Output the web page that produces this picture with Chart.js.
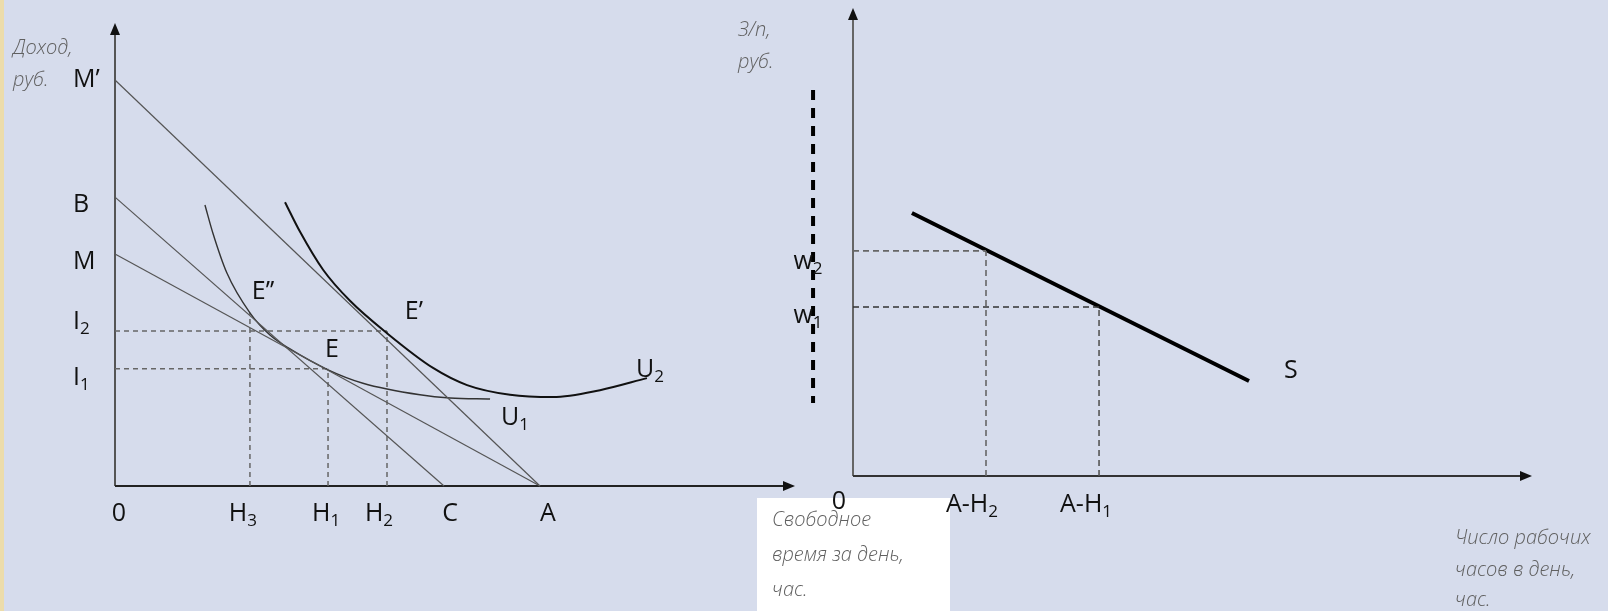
<!DOCTYPE html>
<html>
<head>
<meta charset="utf-8">
<script src="https://cdn.jsdelivr.net/npm/chart.js@4.4.1/dist/chart.umd.min.js"></script>
<style>
  html, body { margin: 0; padding: 0; }
  body { width: 1608px; height: 611px; background: #d6dcec; position: relative; overflow: hidden; }
  #bordure { position: absolute; left: 0; top: 0; width: 4px; height: 611px; background: #ecdcaa; }
  canvas { position: absolute; left: 0; top: 0; }
</style>
</head>
<body>
<div id="bordure"></div>
<canvas id="loisir" width="1608" height="611"></canvas>
<canvas id="offre" width="1608" height="611"></canvas>
<script>
// ---------------------------------------------------------------------
// Données (unités du graphique, pas des pixels)
// ---------------------------------------------------------------------

// Graphique de gauche : temps libre (h) / revenu (руб.)
const heuresValeurs = [0, 7.62, 12.03, 15.36, 18.58, 24];
const heuresEtiquettes = ['0', 'H3', 'H1', 'H2', 'C', 'A'];
const revenuValeurs = [877, 624, 501, 335, 253];
const revenuEtiquettes = ['M’', 'B', 'M', 'I2', 'I1'];

// Droites de budget
const droiteMprimeA = [[0, 877], [24, 0]];
const droiteBC = [[0, 624], [18.58, 0]];
const droiteMA = [[0, 501], [24, 0]];

// Courbes d'indifférence
const u1Heures = [5.08, 5.53, 6.32, 7.62, 8.75, 9.88, 12.03, 14.00, 17.22, 18.92, 21.18];
const u1Revenu = [607, 546, 460, 374, 326, 296, 251, 222, 197, 190, 188];
const u2Heures = [9.60, 10.45, 11.75, 13.27, 15.36, 17.96, 19.88, 22.31, 24.73, 27.39, 30.04];
const u2Revenu = [613, 549, 467, 400, 330, 255, 218, 197, 192, 207, 233];

// Hauteur du pointillé sous E''
const hautH3 = 374;

// Graphique de droite : heures de travail / salaire
const travailValeurs = [0, 6.66, 12.32];
const travailEtiquettes = ['0', 'A-H2', 'A-H1'];
const salaireValeurs = [48.1, 36.1];
const salaireEtiquettes = ['w2', 'w1'];
const courbeS = [[2.95, 56.2], [19.83, 20.3]];
const pointilleEpais = [[-2.0, 82.5], [-2.0, 15.6]];

// ---------------------------------------------------------------------
// Outils de dessin
// ---------------------------------------------------------------------
const POLICE = '25px "Open Sans", sans-serif';
const POLICE_INDICE = '17px "Open Sans", sans-serif';
const POLICE_TITRE = 'italic 300 20px "Open Sans", sans-serif';

function serie(points, couleur, epaisseur, tirets, lisse) {
  return {
    data: points.map((p) => ({ x: p[0], y: p[1] })),
    showLine: true,
    borderColor: couleur,
    borderWidth: epaisseur,
    borderDash: tirets || [],
    pointRadius: 0,
    tension: lisse ? 0.4 : 0,
    cubicInterpolationMode: lisse ? 'monotone' : 'default',
    clip: false,
    fill: false
  };
}

function zip(xs, ys) {
  return xs.map((x, i) => [x, ys[i]]);
}

// Texte avec indice éventuel (H3 -> H + 3 en indice)
function etiquette(ctx, texte, cx, cy, aligne) {
  const m = texte.length > 1 ? texte.match(/^(.*?)(\d)$/) : null;
  const base = m ? m[1] : texte;
  const indice = m ? m[2] : '';
  ctx.font = POLICE;
  const l1 = ctx.measureText(base).width;
  ctx.font = POLICE_INDICE;
  const l2 = indice ? ctx.measureText(indice).width : 0;
  const x = aligne === 'left' ? cx : cx - (l1 + l2) / 2;
  ctx.fillStyle = '#111';
  ctx.textAlign = 'left';
  ctx.textBaseline = 'middle';
  ctx.font = POLICE;
  ctx.fillText(base, x, cy);
  if (indice) {
    ctx.font = POLICE_INDICE;
    ctx.fillText(indice, x + l1, cy + 7);
  }
}

function titre(ctx, lignes, x, ys) {
  ctx.font = POLICE_TITRE;
  ctx.fillStyle = '#606060';
  ctx.textAlign = 'left';
  ctx.textBaseline = 'middle';
  lignes.forEach((t, i) => ctx.fillText(t, x, ys[i]));
}

function axes(ctx, sx, sy, coulX, coulY) {
  const x0 = sx.getPixelForValue(0);
  const y0 = sy.getPixelForValue(0);
  const xFin = sx.right;
  const yFin = sy.top;
  ctx.save();
  ctx.lineWidth = 2;
  ctx.strokeStyle = coulY;
  ctx.beginPath(); ctx.moveTo(x0, y0); ctx.lineTo(x0, yFin + 8); ctx.stroke();
  ctx.fillStyle = '#111';
  ctx.beginPath(); ctx.moveTo(x0, yFin); ctx.lineTo(x0 - 5, yFin + 12); ctx.lineTo(x0 + 5, yFin + 12); ctx.closePath(); ctx.fill();
  ctx.strokeStyle = coulX;
  ctx.beginPath(); ctx.moveTo(x0, y0); ctx.lineTo(xFin - 8, y0); ctx.stroke();
  ctx.beginPath(); ctx.moveTo(xFin, y0); ctx.lineTo(xFin - 12, y0 - 5); ctx.lineTo(xFin - 12, y0 + 5); ctx.closePath(); ctx.fill();
  ctx.restore();
}

// ---------------------------------------------------------------------
// Graphique de gauche
// ---------------------------------------------------------------------
const decorGauche = {
  id: 'decorGauche',
  beforeDatasetsDraw(chart) {
    const { ctx, scales: { x, y } } = chart;
    // encadré blanc sous l'axe
    ctx.save();
    ctx.fillStyle = '#ffffff';
    ctx.fillRect(757, 498, 193, 113);
    ctx.restore();
    axes(ctx, x, y, '#222', '#555');
  },
  afterDatasetsDraw(chart) {
    const { ctx, scales: { x, y } } = chart;
    const y0 = y.getPixelForValue(0);
    const decalX = [4, -7, -2, -8, 6, 8];
    heuresValeurs.forEach((v, i) => etiquette(ctx, heuresEtiquettes[i], x.getPixelForValue(v) + decalX[i], y0 + 28));
    const decalY = [0, 8, 8, -9, 9];
    revenuValeurs.forEach((v, i) => etiquette(ctx, revenuEtiquettes[i], x.left - 42, y.getPixelForValue(v) + decalY[i], 'left'));
    // points et courbes
    [['E’’', 8.36, 419], ['E', 12.25, 294], ['E’', 16.88, 376], ['U1', 22.59, 147], ['U2', 30.21, 251]]
      .forEach(([t, a, b]) => etiquette(ctx, t, x.getPixelForValue(a), y.getPixelForValue(b)));
    titre(ctx, ['Доход,', 'руб.'], 13, [48, 80]);
    titre(ctx, ['Свободное', 'время за день,', 'час.'], 772, [520, 555, 590]);
  }
};

new Chart(document.getElementById('loisir'), {
  type: 'scatter',
  data: {
    datasets: [
      serie(droiteMprimeA, '#555', 1.2),
      serie(droiteBC, '#555', 1.2),
      serie(droiteMA, '#555', 1.2),
      serie(zip(u1Heures, u1Revenu), '#333', 1.4, null, true),
      serie(zip(u2Heures, u2Revenu), '#111', 2, null, true),
      serie([[0, revenuValeurs[3]], [heuresValeurs[3], revenuValeurs[3]]], '#666', 1.5, [5, 4]),
      serie([[heuresValeurs[3], 0], [heuresValeurs[3], revenuValeurs[3]]], '#666', 1.5, [5, 4]),
      serie([[0, revenuValeurs[4]], [heuresValeurs[2], revenuValeurs[4]]], '#666', 1.5, [5, 4]),
      serie([[heuresValeurs[2], 0], [heuresValeurs[2], revenuValeurs[4]]], '#666', 1.5, [5, 4]),
      serie([[heuresValeurs[1], 0], [heuresValeurs[1], hautH3]], '#666', 1.5, [5, 4])
    ]
  },
  options: {
    responsive: false,
    animation: false,
    layout: { padding: { left: 115, top: 23, right: 813, bottom: 125 } },
    plugins: { legend: { display: false }, tooltip: { enabled: false } },
    scales: {
      x: { type: 'linear', display: false, min: 0, max: 38.4 },
      y: { type: 'linear', display: false, min: 0, max: 1000 }
    }
  },
  plugins: [decorGauche]
});

// ---------------------------------------------------------------------
// Graphique de droite
// ---------------------------------------------------------------------
const decorDroite = {
  id: 'decorDroite',
  beforeDatasetsDraw(chart) {
    const { ctx, scales: { x, y } } = chart;
    axes(ctx, x, y, '#333', '#666');
  },
  afterDatasetsDraw(chart) {
    const { ctx, scales: { x, y } } = chart;
    const y0 = y.getPixelForValue(0);
    const decalX = [-14, -14, -13];
    const decalH = [26, 29, 29];
    travailValeurs.forEach((v, i) => etiquette(ctx, travailEtiquettes[i], x.getPixelForValue(v) + decalX[i], y0 + decalH[i]));
    const decalY = [11, 9];
    salaireValeurs.forEach((v, i) => etiquette(ctx, salaireEtiquettes[i], x.left - 45, y.getPixelForValue(v) + decalY[i]));
    etiquette(ctx, 'S', x.getPixelForValue(21.93), y.getPixelForValue(22.4));
    titre(ctx, ['З/п,', 'руб.'], 738, [30, 62]);
    titre(ctx, ['Число рабочих', 'часов в день,', 'час.'], 1455, [538, 570, 600]);
  }
};

new Chart(document.getElementById('offre'), {
  type: 'scatter',
  data: {
    datasets: [
      serie([[0, salaireValeurs[0]], [travailValeurs[1], salaireValeurs[0]]], '#666', 1.6, [6, 4]),
      serie([[travailValeurs[1], 0], [travailValeurs[1], salaireValeurs[0]]], '#666', 1.6, [6, 4]),
      serie([[0, salaireValeurs[1]], [travailValeurs[2], salaireValeurs[1]]], '#333', 1.6, [6, 4]),
      serie([[travailValeurs[2], 0], [travailValeurs[2], salaireValeurs[1]]], '#555', 1.6, [6, 4]),
      serie(courbeS, '#000', 4),
      serie(pointilleEpais, '#000', 4, [10, 8])
    ]
  },
  options: {
    responsive: false,
    animation: false,
    layout: { padding: { left: 853, top: 8, right: 76, bottom: 135 } },
    plugins: { legend: { display: false }, tooltip: { enabled: false } },
    scales: {
      x: { type: 'linear', display: false, min: 0, max: 34 },
      y: { type: 'linear', display: false, min: 0, max: 100 }
    }
  },
  plugins: [decorDroite]
});
</script>
</body>
</html>
